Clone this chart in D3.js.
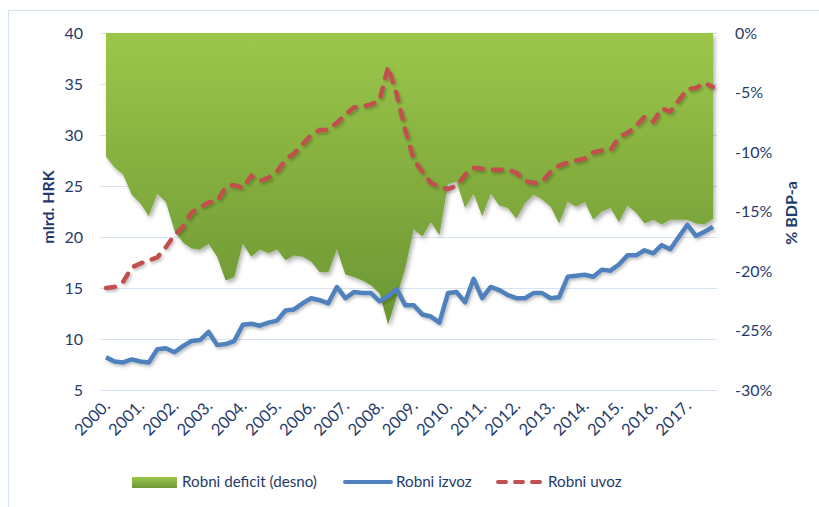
<!DOCTYPE html>
<html><head><meta charset="utf-8">
<script src="https://cdn.jsdelivr.net/npm/d3@7"></script>
<style>
body{margin:0;background:#fff;}
svg{display:block;font-family:Lato,"Open Sans",sans-serif;}
</style></head><body>
<svg id="c" width="819" height="507"></svg>
<script>
const years = ["2000.","2001.","2002.","2003.","2004.","2005.","2006.","2007.","2008.","2009.","2010.","2011.","2012.","2013.","2014.","2015.","2016.","2017."];
const leftTicks = [5,10,15,20,25,30,35,40];
const rightTicks = [0,-5,-10,-15,-20,-25,-30];
// quarterly, 2000Q1..2017Q4
const deficit = [-10.4,-11.3,-11.9,-13.6,-14.3,-15.4,-13.5,-14.2,-16.6,-17.6,-18.1,-18.2,-17.7,-18.8,-20.8,-20.5,
 -17.7,-18.8,-18.2,-18.5,-18.2,-19.1,-18.7,-18.8,-19.2,-20.1,-20.1,-18.2,-20.3,-20.5,-20.8,-21.2,
 -21.9,-24.5,-22.2,-19.8,-16.5,-17.1,-15.9,-17.0,-12.7,-12.5,-14.7,-13.5,-15.4,-13.5,-14.5,-14.7,
 -15.6,-14.3,-13.6,-14.0,-14.6,-16.0,-14.2,-14.6,-14.2,-15.7,-15.0,-14.7,-15.9,-14.5,-15.1,-16.0,
 -15.7,-16.1,-15.7,-15.7,-15.7,-16.0,-16.1,-15.6];
const exportsV = [8.2,7.8,7.7,8.0,7.8,7.7,9.0,9.1,8.7,9.3,9.8,9.9,10.7,9.4,9.5,9.8,
 11.4,11.5,11.3,11.6,11.8,12.8,12.9,13.5,14.0,13.8,13.5,15.1,14.0,14.6,14.5,14.5,
 13.7,14.2,14.9,13.3,13.3,12.4,12.2,11.6,14.5,14.6,13.6,15.9,14.0,15.1,14.8,14.3,
 14.0,14.0,14.5,14.5,14.0,14.1,16.1,16.2,16.3,16.1,16.8,16.7,17.3,18.2,18.2,18.7,
 18.4,19.2,18.8,20.0,21.2,20.1,20.5,21.0];
const importsV = [15.0,15.1,15.6,17.0,17.4,17.7,18.0,19.0,20.2,21.0,22.4,22.9,23.4,23.5,24.9,25.1,
 24.8,26.0,25.5,25.8,26.4,27.6,28.2,29.1,30.0,30.5,30.5,31.2,32.0,32.7,32.8,33.0,
 33.4,36.7,34.0,30.5,27.6,26.4,25.3,24.9,24.7,25.0,26.1,26.8,26.7,26.6,26.6,26.6,
 26.3,25.5,25.3,25.4,26.4,27.0,27.3,27.5,27.7,28.3,28.5,28.5,29.8,30.2,30.9,31.8,
 31.3,32.6,32.3,33.4,34.5,34.6,35.1,34.7];
const legendLabels = ["Robni deficit (desno)","Robni izvoz","Robni uvoz"];

const svg = d3.select("#c");
const textCol = "#1F3B6B";
const idx = d3.range(deficit.length);
const x = d3.scalePoint().domain(idx).range([106,713]);
const yL = d3.scaleLinear().domain([5,40]).range([390,33]);
const yR = d3.scaleLinear().domain([-30,0]).range([390,33]);

const defs = svg.append("defs");
const g1 = defs.append("linearGradient").attr("id","gr").attr("gradientUnits","userSpaceOnUse")
  .attr("x1",0).attr("y1",33).attr("x2",0).attr("y2",330);
g1.append("stop").attr("offset","0").attr("stop-color","#9CC74A");
g1.append("stop").attr("offset","1").attr("stop-color","#6A9432");
const g2 = defs.append("linearGradient").attr("id","grl").attr("x1",0).attr("y1",0).attr("x2",0).attr("y2",1);
g2.append("stop").attr("offset","0").attr("stop-color","#9CC74A");
g2.append("stop").attr("offset","1").attr("stop-color","#6E9836");
const f = defs.append("filter").attr("id","sh").attr("x","-10%").attr("y","-10%").attr("width","130%").attr("height","130%");
f.append("feDropShadow").attr("dx",2).attr("dy",3).attr("stdDeviation",2).attr("flood-color","#000").attr("flood-opacity",0.3);
const f2 = defs.append("filter").attr("id","shl").attr("x","-10%").attr("y","-10%").attr("width","130%").attr("height","130%");
f2.append("feDropShadow").attr("dx",1.5).attr("dy",2).attr("stdDeviation",1.5).attr("flood-color","#000").attr("flood-opacity",0.25);

// chart border
svg.append("rect").attr("x",8.5).attr("y",10.5).attr("width",830).attr("height",520)
  .attr("fill","none").attr("stroke","#D5E2F2").attr("stroke-width",1);

// gridlines
svg.append("g").selectAll("line").data(leftTicks).join("line")
  .attr("x1",100).attr("x2",717).attr("y1",d=>Math.round(yL(d))+0.5).attr("y2",d=>Math.round(yL(d))+0.5)
  .attr("stroke","#D6E3F3").attr("stroke-width",1.2);

// area
const area = d3.area().x((d,i)=>x(i)).y0(yR(0)).y1(d=>yR(d));
svg.append("path").datum(deficit).attr("d",area).attr("fill","url(#gr)").attr("filter","url(#sh)");

// lines
const lineL = d3.line().x((d,i)=>x(i)).y(d=>yL(d));
svg.append("path").datum(exportsV).attr("d",lineL).attr("fill","none")
  .attr("stroke","#4F81BD").attr("stroke-width",4.5).attr("stroke-linejoin","round").attr("filter","url(#shl)");
svg.append("path").datum(importsV).attr("d",lineL).attr("fill","none")
  .attr("stroke","#C0504D").attr("stroke-width",4.5).attr("stroke-linecap","round")
  .attr("stroke-dasharray","9,10").attr("filter","url(#shl)");

// left axis labels
svg.append("g").selectAll("text").data(leftTicks).join("text")
  .attr("x",83).attr("y",d=>yL(d)).attr("dy","0.36em").attr("text-anchor","end")
  .attr("font-size",16).attr("fill",textCol).text(d=>d);
// right axis labels
svg.append("g").selectAll("text").data(rightTicks).join("text")
  .attr("x",735).attr("y",d=>yR(d)).attr("dy","0.36em").attr("text-anchor","start")
  .attr("font-size",16).attr("fill",textCol).text(d=>d+"%");
// x labels
svg.append("g").selectAll("text").data(years).join("text")
  .attr("transform",(d,i)=>`translate(${x(i*4)+5},${407}) rotate(-45)`)
  .attr("text-anchor","end").attr("font-size",16.5).attr("fill",textCol).text(d=>d);

// axis titles
svg.append("text").attr("transform","translate(54,207) rotate(-90)").attr("text-anchor","middle")
  .attr("font-size",16).attr("font-weight","bold").attr("fill",textCol).text("mlrd. HRK");
svg.append("text").attr("transform","translate(797,213) rotate(-90)").attr("text-anchor","middle")
  .attr("font-size",16).attr("font-weight","bold").attr("fill",textCol).text("% BDP-a");

// legend
const lg = svg.append("g");
lg.append("rect").attr("x",132).attr("y",477).attr("width",45).attr("height",11).attr("fill","url(#grl)");
lg.append("text").attr("x",182).attr("y",482).attr("dy","0.36em").attr("font-size",15.2).attr("fill",textCol).text(legendLabels[0]);
lg.append("line").attr("x1",345).attr("x2",391).attr("y1",482).attr("y2",482).attr("stroke","#4F81BD").attr("stroke-width",4).attr("stroke-linecap","round");
lg.append("text").attr("x",396).attr("y",482).attr("dy","0.36em").attr("font-size",15.2).attr("fill",textCol).text(legendLabels[1]);
lg.append("line").attr("x1",498).attr("x2",543).attr("y1",482).attr("y2",482).attr("stroke","#C0504D").attr("stroke-width",4).attr("stroke-linecap","round").attr("stroke-dasharray","8,9");
lg.append("text").attr("x",548).attr("y",482).attr("dy","0.36em").attr("font-size",15.2).attr("fill",textCol).text(legendLabels[2]);
</script></body></html>
